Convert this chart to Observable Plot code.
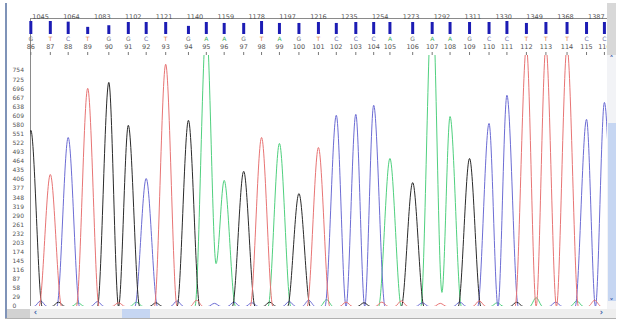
<!DOCTYPE html>
<html><head><meta charset="utf-8">
<script src="https://cdn.jsdelivr.net/npm/d3@7"></script>
<script src="https://cdn.jsdelivr.net/npm/@observablehq/plot@0.6"></script>
<style>
body{margin:0;background:#fff;}
#wrap{position:relative;width:624px;height:324px;overflow:hidden;font-family:"DejaVu Sans",sans-serif;background:#fff;}
#wrap svg{position:absolute;left:0;}
.c{position:absolute;box-sizing:border-box;}
.g{position:absolute;font-size:8px;color:#3d5fa8;line-height:8px;text-align:center;font-weight:bold;}
</style></head><body><div id="wrap"></div>
<script>
// ---- data ----
const baseNums = [86,87,88,89,90,91,92,93,94,95,96,97,98,99,100,101,102,103,104,105,106,107,108,109,110,111,112,113,114,115,116];
const bases = ["G","T","C","T","G","G","C","T","G","A","A","G","T","A","G","T","C","C","C","A","G","A","A","G","C","C","T","T","T","C","C"];
const peakScans = [1039,1051,1062,1074,1087,1099,1110,1122,1136,1147,1158,1170,1181,1192,1204,1216,1227,1239,1250,1260,1274,1286,1297,1309,1321,1332,1344,1356,1369,1381,1392];
const peakHeights = [563,422,540,697,716,579,409,774,595,900,403,432,540,521,361,508,611,614,643,473,396,1000,607,473,585,675,830,830,830,598,652];
const quality = [40,40,38,22,27,37,37,37,25,37,34,34,40,34,34,37,34,37,37,37,37,37,37,37,37,40,34,37,37,37,37];
const scanTicks = [1045,1064,1083,1102,1121,1140,1159,1178,1197,1216,1235,1254,1273,1292,1311,1330,1349,1368,1387];
const yTicks = [0,29,58,87,116,145,174,203,232,261,290,319,348,377,406,435,464,493,522,551,580,609,638,667,696,725,754];
const valleyBases = ["A","A"];
const valleyScans = [1153,1292];
const valleyValues = [137,45];
// small baseline bumps between the called peaks
const minorBases  = ["C","G","A","C","T","A","G","C","T","C","C","C","G","C","C","A","T","G","T","T","C","T","C","T","A","G","A","C","A","T"];
const minorScans  = [1045,1056,1068,1080,1093,1104,1116,1129,1141,1152,1164,1175,1186,1198,1210,1221,1233,1244,1255,1267,1280,1291,1303,1315,1326,1338,1350,1362,1375,1386];
const minorValues = [18,14,12,16,12,14,12,18,20,10,14,12,14,16,20,22,14,12,14,18,12,10,14,18,12,14,28,14,18,20];
const channels = ["A","C","G","T"];
const traceColors = ["#4fd07e","#6c6cd4","#2a2a2a","#e87474"];
const letterColors = {A:"#3cb060",C:"#6a70a8",G:"#707070",T:"#e07a40"};

// ---- layout ----
const xDomain = [1038.8, 1393.9];
const hwMajor = 7, hwMinor = 4;
const font = "DejaVu Sans";

const calls = baseNums.map((n,i)=>({num:String(n), base:bases[i], scan:peakScans[i], h:peakHeights[i], q:quality[i], w:hwMajor}));
const minors = minorBases.map((b,i)=>({base:b, scan:minorScans[i], h:minorValues[i], w:hwMinor}));

function trace(ch){
  const pk = calls.concat(minors).filter(d=>d.base===ch).sort((a,b)=>a.scan-b.scan);
  const pts = [{scan:xDomain[0]-30, v:0}];
  pk.forEach((p,i)=>{
    const prev = pk[i-1];
    let vi = -1;
    if (prev) vi = valleyBases.findIndex((b,j)=>b===ch && valleyScans[j]>prev.scan && valleyScans[j]<p.scan);
    if (vi>=0) pts.push({scan:valleyScans[vi], v:valleyValues[vi]});
    else if (prev && p.scan-prev.scan < prev.w+p.w) pts.push({scan:(p.scan+prev.scan)/2, v:0});
    else { if (prev) pts.push({scan:prev.scan+prev.w, v:0}); pts.push({scan:p.scan-p.w, v:0}); }
    pts.push({scan:p.scan, v:p.h});
  });
  const last = pk[pk.length-1];
  pts.push({scan:last.scan+last.w, v:0});
  pts.push({scan:xDomain[1]+30, v:0});
  return pts;
}

const header = Plot.plot({
  width:624, height:55, marginLeft:30, marginRight:17, marginTop:21, marginBottom:21,
  x:{domain:xDomain, axis:null}, y:{domain:[0,40], axis:null},
  style:{background:"transparent", fontFamily:font},
  marks:[
    Plot.ruleY([40],{dy:-3, stroke:"#8a8a8a"}),
    Plot.ruleX([xDomain[0]],{insetTop:-3, insetBottom:-21, stroke:"#8a8a8a"}),
    Plot.text(scanTicks,{x:d=>d, text:d=>String(d), frameAnchor:"top", dy:-7, fontSize:6.5, fill:"#555"}),
    Plot.ruleX(calls,{x:"scan", y1:0, y2:"q", strokeWidth:3, stroke:"#1c1cb4"}),
    Plot.text(calls,{x:"scan", text:"base", frameAnchor:"bottom", dy:6, fontSize:6, fill:d=>letterColors[d.base]}),
    Plot.text(calls,{x:"scan", text:"num", frameAnchor:"bottom", dy:14, fontSize:6.5, fill:"#555"}),
    Plot.ruleX(calls,{x:"scan", insetTop:31, insetBottom:-21, stroke:"#777"})
  ]
});
header.style.top = "0px";

const main = Plot.plot({
  width:624, height:269, marginLeft:30, marginRight:17, marginTop:0, marginBottom:18,
  x:{domain:xDomain, axis:null}, y:{domain:[0,802], axis:null},
  style:{background:"transparent", fontFamily:font},
  marks:[
    Plot.text(yTicks,{y:d=>d, text:d=>String(d), frameAnchor:"left", dx:-18, textAnchor:"start", fontSize:6, fill:"#555"}),
    Plot.ruleX([xDomain[0]],{stroke:"#8a8a8a"}),
    ...channels.map((ch,i)=>Plot.line(trace(ch),{x:"scan", y:"v", stroke:traceColors[i], strokeWidth:1, curve:"monotone-x", clip:true}))
  ]
});
main.style.top = "55px";

const wrap = document.getElementById("wrap");
wrap.appendChild(main);
wrap.appendChild(header);

function box(l,t,w,h,css){const d=document.createElement("div");d.className="c";d.style.cssText=`left:${l}px;top:${t}px;width:${w}px;height:${h}px;`+css;wrap.appendChild(d);return d;}
function glyph(l,t,w,txt){const d=document.createElement("div");d.className="g";d.style.cssText=`left:${l}px;top:${t}px;width:${w}px;`;d.textContent=txt;wrap.appendChild(d);}
// window frame
box(5,3,2,316,"background:#7f93b8;");
box(5,318,611,1,"background:#b0b0b0;");
// right strip & vertical scrollbar
box(607,3,9,52,"background:#d8d8d8;");
box(607,55,9,254,"background:#f2f3f6;");
box(608,123,8,178,"background:#c6d6f2;");
glyph(607,56,9,"˄");
glyph(607,299,9,"˅");
// horizontal scrollbar
box(7,309,609,9,"background:#eeeeee;");
box(7,309,23,9,"background:#d2d2d2;");
box(122,309,28,9,"background:#c6d6f2;");
glyph(31,309,9,"‹");
glyph(597,309,9,"›");
</script></body></html>
